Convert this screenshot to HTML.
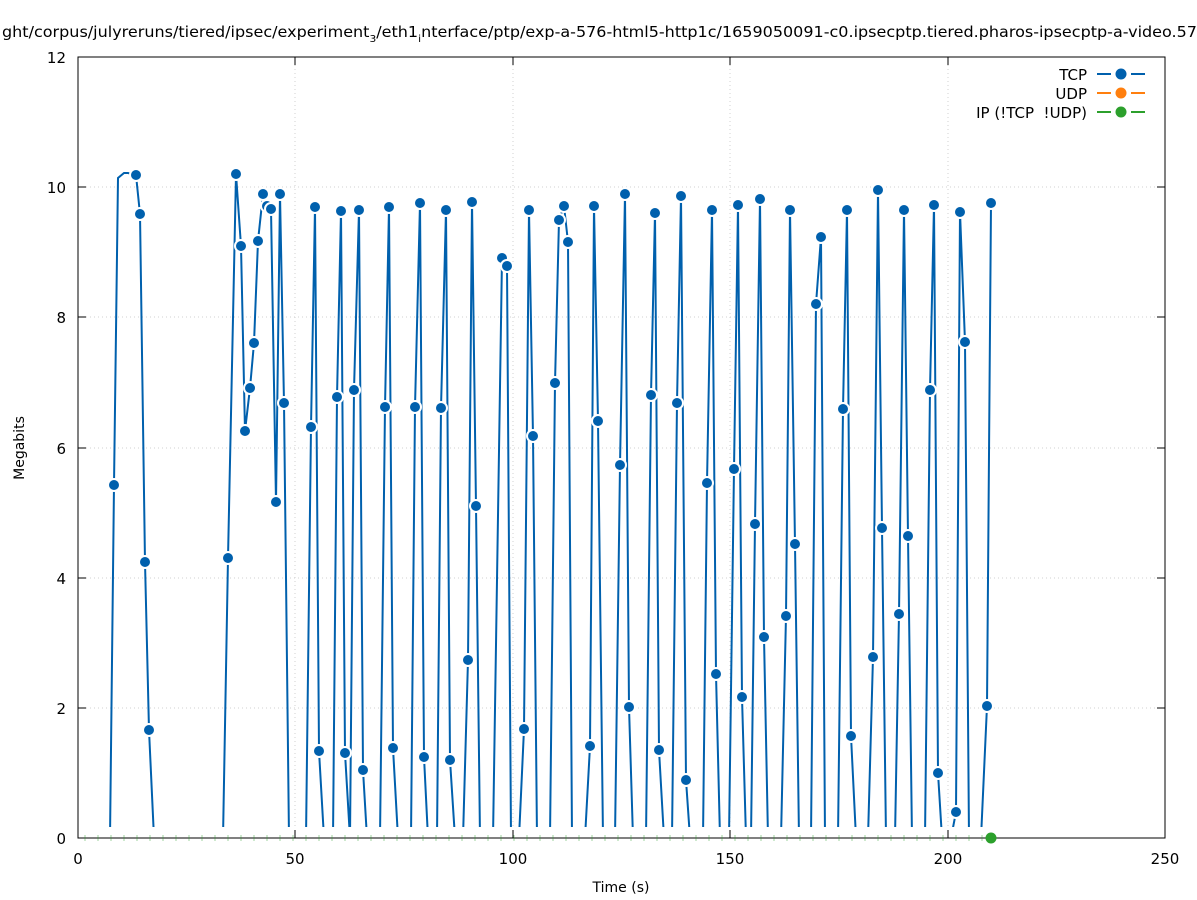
<!DOCTYPE html>
<html><head><meta charset="utf-8"><style>body{margin:0;background:#fff}svg{display:block}</style></head><body>
<svg width="1197" height="900" xmlns="http://www.w3.org/2000/svg" font-family="DejaVu Sans, Liberation Sans, sans-serif" font-size="15">
<rect width="1197" height="900" fill="#fff"/>
<g stroke="#d0d0d0" stroke-dasharray="1,3" stroke-width="1">
<line x1="295" y1="57" x2="295" y2="838"/><line x1="513" y1="57" x2="513" y2="838"/><line x1="730" y1="57" x2="730" y2="838"/><line x1="948" y1="57" x2="948" y2="838"/>
<line x1="78" y1="187" x2="1165" y2="187"/><line x1="78" y1="317" x2="1165" y2="317"/><line x1="78" y1="448" x2="1165" y2="448"/><line x1="78" y1="578" x2="1165" y2="578"/><line x1="78" y1="708" x2="1165" y2="708"/>
</g>
<g text-anchor="end">
<text x="66" y="844">0</text><text x="66" y="714">2</text><text x="66" y="584">4</text><text x="66" y="454">6</text><text x="66" y="323">8</text><text x="66" y="193">10</text><text x="66" y="63">12</text>
</g>
<g text-anchor="middle">
<text x="78" y="864">0</text><text x="295" y="864">50</text><text x="513" y="864">100</text><text x="730" y="864">150</text><text x="948" y="864">200</text><text x="1165" y="864">250</text>
<text x="621" y="892" font-size="14">Time (s)</text>
</g>
<text transform="translate(24,448) rotate(-90)" text-anchor="middle" font-size="14">Megabits</text>
<text x="2" y="37" font-size="15" textLength="1195" lengthAdjust="spacingAndGlyphs">ght/corpus/julyreruns/tiered/ipsec/experiment<tspan font-size="10" dy="5">3</tspan><tspan dy="-5">/eth1</tspan><tspan font-size="10" dy="5">i</tspan><tspan dy="-5">nterface/ptp/exp-a-576-html5-http1c/1659050091-c0.ipsecptp.tiered.pharos-ipsecptp-a-video.57</tspan></text>
<polyline fill="none" stroke="#0060ad" stroke-width="2" points="110,838 114,485 118,178 124,173 128,173 136,175 140,214 145,562 149,730 154,838 223,838 228,558 236,174 241,246 245,431 250,388 254,343 258,241 263,194 267,206 271,209 276,502 280,194 284,403 289,838 306,838 311,427 315,207 319,751 324,838 333,838 337,397 341,211 345,753 350,838 354,390 359,210 363,770 367,838 380,838 385,407 389,207 393,748 398,838 411,838 415,407 420,203 424,757 428,838 437,838 441,408 446,210 450,760 455,838 463,838 468,660 472,202 476,506 480,838 493,838 502,258 507,266 511,838 519,838 524,729 529,210 533,436 537,838 550,838 555,383 559,220 564,206 568,242 572,838 585,838 590,746 594,206 598,421 603,838 615,838 620,465 625,194 629,707 633,838 646,838 651,395 655,213 659,750 664,838 672,838 677,403 681,196 686,780 690,838 703,838 707,483 712,210 716,674 720,838 729,838 734,469 738,205 742,697 746,838 751,838 755,524 760,199 764,637 768,838 781,838 786,616 790,210 795,544 799,838 811,838 816,304 821,237 825,838 838,838 843,409 847,210 851,736 856,838 868,838 873,657 878,190 882,528 886,838 895,838 899,614 904,210 908,536 912,838 925,838 930,390 934,205 938,773 942,838 951,838 956,812 960,212 965,342 969,838 981,838 987,706 991,203"/>
<rect x="79" y="827" width="1085" height="14" fill="#fff"/>
<rect x="78" y="57" width="1087" height="781" fill="none" stroke="#000" stroke-width="1"/>
<g stroke="#000">
<line x1="295" y1="838" x2="295" y2="830"/><line x1="513" y1="838" x2="513" y2="830"/><line x1="730" y1="838" x2="730" y2="830"/><line x1="948" y1="838" x2="948" y2="830"/>
<line x1="295" y1="57" x2="295" y2="65"/><line x1="513" y1="57" x2="513" y2="65"/><line x1="730" y1="57" x2="730" y2="65"/><line x1="948" y1="57" x2="948" y2="65"/>
<line x1="78" y1="187" x2="86" y2="187"/><line x1="78" y1="317" x2="86" y2="317"/><line x1="78" y1="448" x2="86" y2="448"/><line x1="78" y1="578" x2="86" y2="578"/><line x1="78" y1="708" x2="86" y2="708"/>
<line x1="1165" y1="187" x2="1157" y2="187"/><line x1="1165" y1="317" x2="1157" y2="317"/><line x1="1165" y1="448" x2="1157" y2="448"/><line x1="1165" y1="578" x2="1157" y2="578"/><line x1="1165" y1="708" x2="1157" y2="708"/>
</g>
<g stroke="#2ca02c" stroke-width="1" opacity="0.45">
<path d="M85,835v6M98,835v6M111,835v6M124,835v6M137,835v6M150,835v6M163,835v6M176,835v6M189,835v6M202,835v6M215,835v6M228,835v6M241,835v6M254,835v6M267,835v6M280,835v6M293,835v6M306,835v6M319,835v6M332,835v6M345,835v6M358,835v6M371,835v6M384,835v6M397,835v6M410,835v6M423,835v6M436,835v6M449,835v6M462,835v6M475,835v6M488,835v6M501,835v6M514,835v6M527,835v6M540,835v6M553,835v6M566,835v6M579,835v6M592,835v6M605,835v6M618,835v6M631,835v6M644,835v6M657,835v6M670,835v6M683,835v6M696,835v6M709,835v6M722,835v6M735,835v6M748,835v6M761,835v6M774,835v6M787,835v6M800,835v6M813,835v6M826,835v6M839,835v6M852,835v6M865,835v6M878,835v6M891,835v6M904,835v6M917,835v6M930,835v6M943,835v6M956,835v6M969,835v6M982,835v6"/>
</g>
<g fill="#0060ad" stroke="#fff" stroke-width="2">
<circle cx="114" cy="485" r="6"/><circle cx="136" cy="175" r="6"/><circle cx="140" cy="214" r="6"/><circle cx="145" cy="562" r="6"/><circle cx="149" cy="730" r="6"/>
<circle cx="228" cy="558" r="6"/><circle cx="236" cy="174" r="6"/><circle cx="241" cy="246" r="6"/><circle cx="245" cy="431" r="6"/><circle cx="250" cy="388" r="6"/><circle cx="254" cy="343" r="6"/><circle cx="258" cy="241" r="6"/><circle cx="263" cy="194" r="6"/><circle cx="267" cy="206" r="6"/><circle cx="271" cy="209" r="6"/><circle cx="276" cy="502" r="6"/><circle cx="280" cy="194" r="6"/><circle cx="284" cy="403" r="6"/>
<circle cx="311" cy="427" r="6"/><circle cx="315" cy="207" r="6"/><circle cx="319" cy="751" r="6"/><circle cx="337" cy="397" r="6"/><circle cx="341" cy="211" r="6"/><circle cx="345" cy="753" r="6"/><circle cx="354" cy="390" r="6"/><circle cx="359" cy="210" r="6"/><circle cx="363" cy="770" r="6"/>
<circle cx="385" cy="407" r="6"/><circle cx="389" cy="207" r="6"/><circle cx="393" cy="748" r="6"/><circle cx="415" cy="407" r="6"/><circle cx="420" cy="203" r="6"/><circle cx="424" cy="757" r="6"/><circle cx="441" cy="408" r="6"/><circle cx="446" cy="210" r="6"/><circle cx="450" cy="760" r="6"/>
<circle cx="468" cy="660" r="6"/><circle cx="472" cy="202" r="6"/><circle cx="476" cy="506" r="6"/><circle cx="502" cy="258" r="6"/><circle cx="507" cy="266" r="6"/><circle cx="524" cy="729" r="6"/><circle cx="529" cy="210" r="6"/><circle cx="533" cy="436" r="6"/>
<circle cx="555" cy="383" r="6"/><circle cx="559" cy="220" r="6"/><circle cx="564" cy="206" r="6"/><circle cx="568" cy="242" r="6"/><circle cx="590" cy="746" r="6"/><circle cx="594" cy="206" r="6"/><circle cx="598" cy="421" r="6"/>
<circle cx="620" cy="465" r="6"/><circle cx="625" cy="194" r="6"/><circle cx="629" cy="707" r="6"/><circle cx="651" cy="395" r="6"/><circle cx="655" cy="213" r="6"/><circle cx="659" cy="750" r="6"/><circle cx="677" cy="403" r="6"/><circle cx="681" cy="196" r="6"/><circle cx="686" cy="780" r="6"/>
<circle cx="707" cy="483" r="6"/><circle cx="712" cy="210" r="6"/><circle cx="716" cy="674" r="6"/><circle cx="734" cy="469" r="6"/><circle cx="738" cy="205" r="6"/><circle cx="742" cy="697" r="6"/><circle cx="755" cy="524" r="6"/><circle cx="760" cy="199" r="6"/><circle cx="764" cy="637" r="6"/>
<circle cx="786" cy="616" r="6"/><circle cx="790" cy="210" r="6"/><circle cx="795" cy="544" r="6"/><circle cx="816" cy="304" r="6"/><circle cx="821" cy="237" r="6"/><circle cx="843" cy="409" r="6"/><circle cx="847" cy="210" r="6"/><circle cx="851" cy="736" r="6"/>
<circle cx="873" cy="657" r="6"/><circle cx="878" cy="190" r="6"/><circle cx="882" cy="528" r="6"/><circle cx="899" cy="614" r="6"/><circle cx="904" cy="210" r="6"/><circle cx="908" cy="536" r="6"/><circle cx="930" cy="390" r="6"/><circle cx="934" cy="205" r="6"/><circle cx="938" cy="773" r="6"/>
<circle cx="956" cy="812" r="6"/><circle cx="960" cy="212" r="6"/><circle cx="965" cy="342" r="6"/><circle cx="987" cy="706" r="6"/><circle cx="991" cy="203" r="6"/>
</g>
<circle cx="991" cy="838" r="5.5" fill="#2ca02c"/>
<g text-anchor="end">
<text x="1087" y="80">TCP</text><text x="1087" y="99">UDP</text><text x="1087" y="118" xml:space="preserve">IP (!TCP  !UDP)</text>
</g>
<g stroke-width="2">
<path d="M1097,74h14M1131,74h14" stroke="#0060ad"/><circle cx="1121" cy="74" r="5.5" fill="#0060ad"/>
<path d="M1097,93h14M1131,93h14" stroke="#ff7f0e"/><circle cx="1121" cy="93" r="5.5" fill="#ff7f0e"/>
<path d="M1097,112h14M1131,112h14" stroke="#2ca02c"/><circle cx="1121" cy="112" r="5.5" fill="#2ca02c"/>
</g>
</svg>
</body></html>
